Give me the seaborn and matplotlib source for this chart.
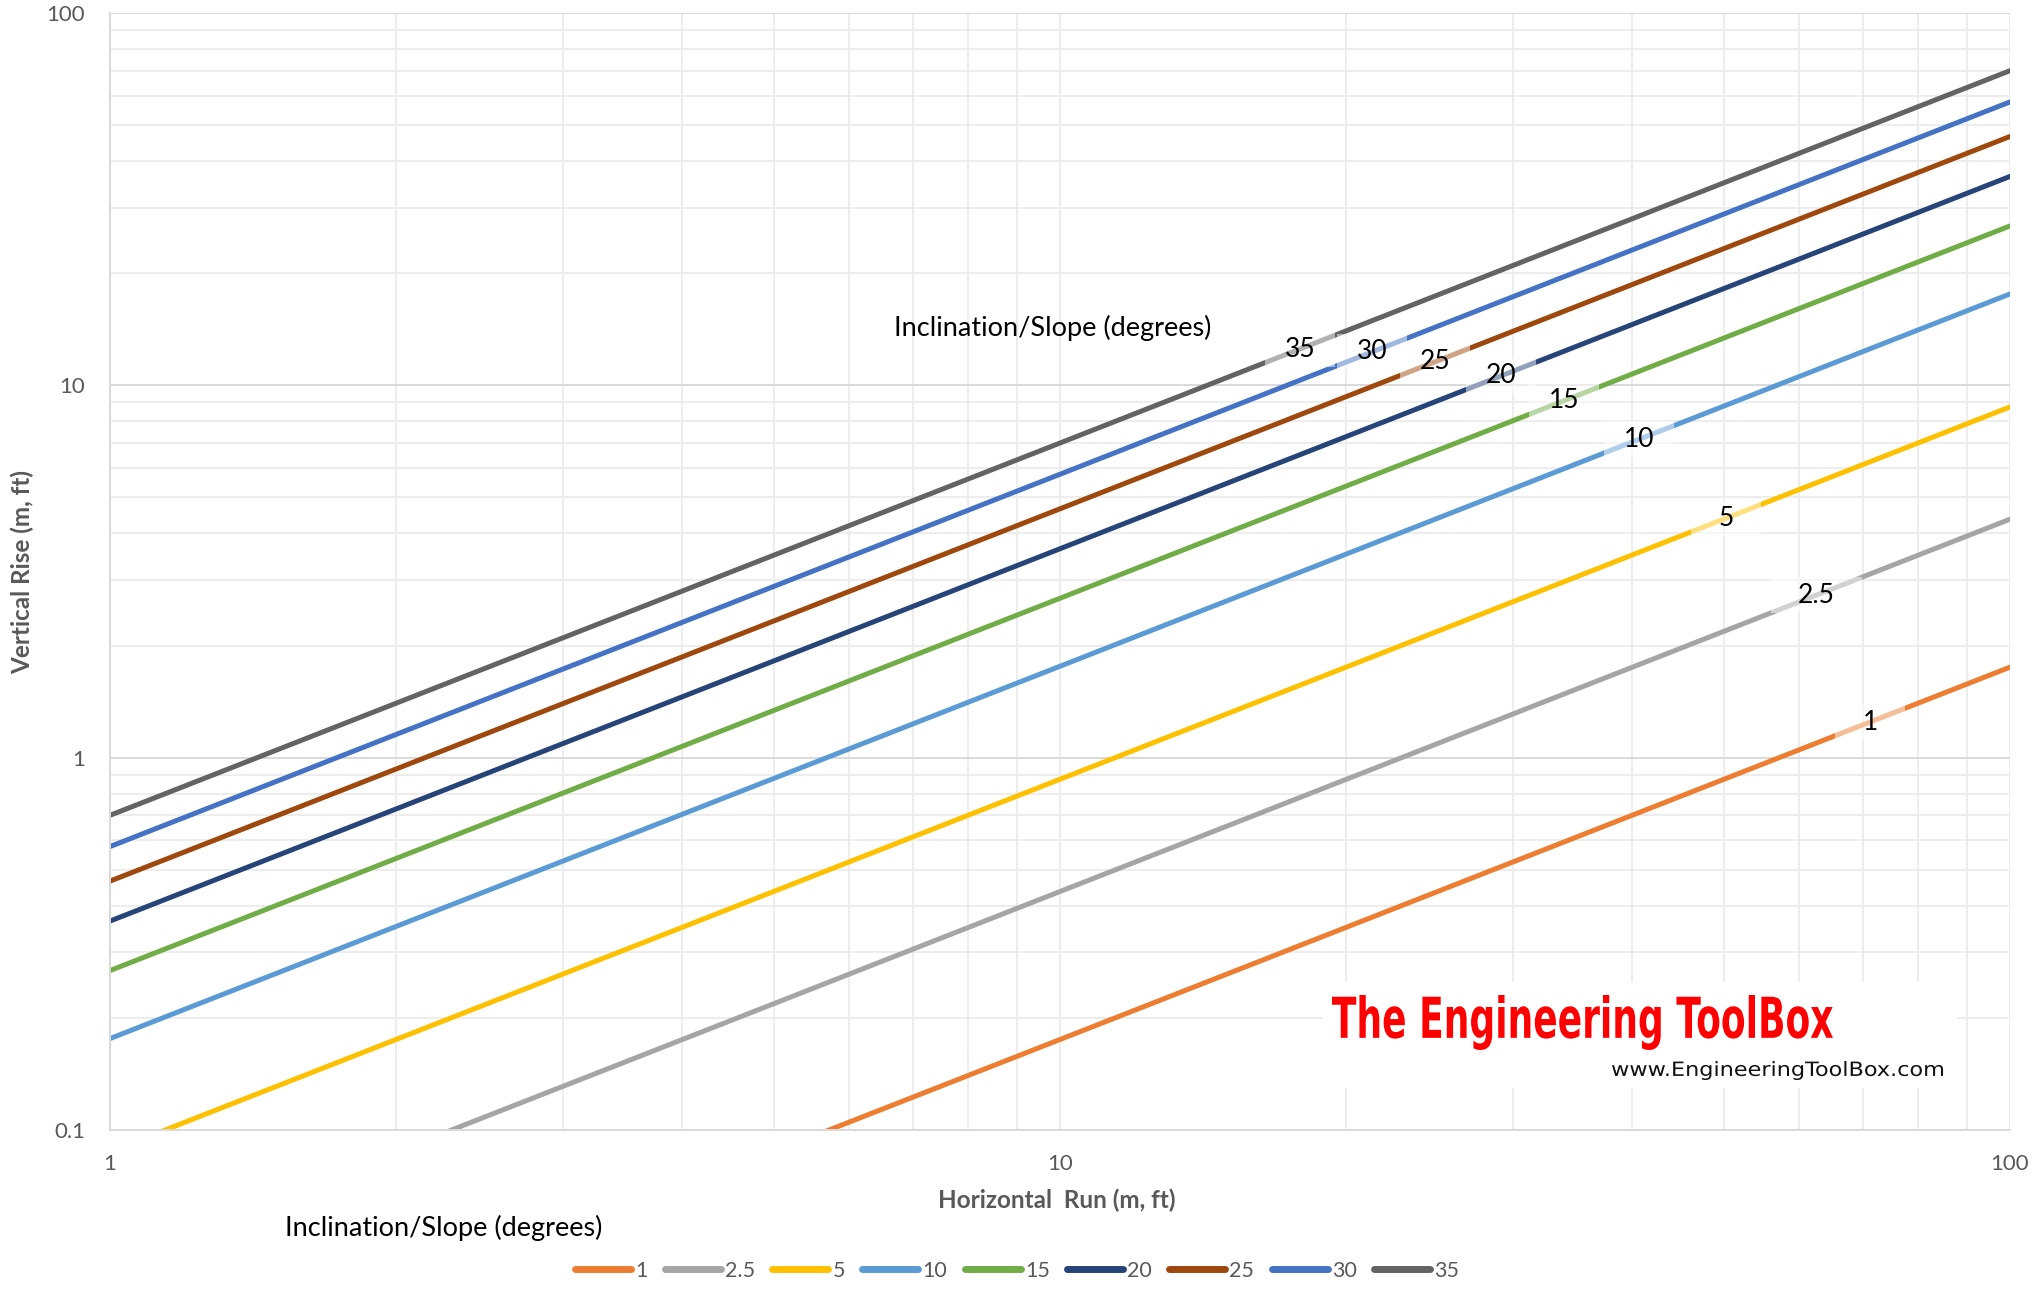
import numpy as np
import pandas as pd
import matplotlib
matplotlib.use('Agg')
import matplotlib.pyplot as plt
import seaborn as sns
from matplotlib.ticker import FixedLocator, FixedFormatter, NullFormatter
from matplotlib.textpath import TextPath
from matplotlib.patches import PathPatch, Rectangle
from matplotlib.font_manager import FontProperties
from matplotlib.transforms import Affine2D, IdentityTransform, ScaledTranslation

# --- data --------------------------------------------------------------
angles = ['1', '2.5', '5', '10', '15', '20', '25', '30', '35']
run = [1, 10, 100]
rise_1 = [0.0175, 0.175, 1.75]
rise_2_5 = [0.0437, 0.437, 4.37]
rise_5 = [0.0875, 0.875, 8.75]
rise_10 = [0.176, 1.76, 17.6]
rise_15 = [0.268, 2.68, 26.8]
rise_20 = [0.364, 3.64, 36.4]
rise_25 = [0.466, 4.66, 46.6]
rise_30 = [0.577, 5.77, 57.7]
rise_35 = [0.700, 7.00, 70.0]
rises = [rise_1, rise_2_5, rise_5, rise_10, rise_15, rise_20, rise_25, rise_30, rise_35]

# where the inline angle labels sit
label_x = [71.3, 62.5, 50.3, 40.7, 33.9, 29.1, 24.8, 21.3, 17.9]
label_y = [1.245, 2.73, 4.40, 7.16, 9.08, 10.6, 11.56, 12.3, 12.5]

x_ticks = [1, 10, 100]
x_tick_labels = ['1', '10', '100']
y_ticks = [0.1, 1, 10, 100]
y_tick_labels = ['0.1', '1', '10', '100']

colors = ['#ED7D31', '#A5A5A5', '#FFC000', '#5B9BD5', '#70AD47',
          '#264478', '#9E480E', '#4472C4', '#636363']

rows = []
for a, r in zip(angles, rises):
    for x, y in zip(run, r):
        rows.append({'run': x, 'rise': y, 'angle': a})
df = pd.DataFrame(rows)

# --- figure -------------------------------------------------------------
sns.set_theme(style='white')
plt.rcParams['font.family'] = ['Lato', 'DejaVu Sans']

W, H = 2033, 1289
fig = plt.figure(figsize=(W / 100, H / 100), dpi=100)
ax = fig.add_axes([110 / W, 1 - 1130 / H, 1900 / W, 1117 / H])

sns.lineplot(data=df, x='run', y='rise', hue='angle', hue_order=angles,
             palette=colors, linewidth=3.6, ax=ax, legend=True)

ax.set_xscale('log')
ax.set_yscale('log')
ax.set_xlim(1, 100)
ax.set_ylim(0.1, 100)

ax.xaxis.set_major_locator(FixedLocator(x_ticks))
ax.xaxis.set_major_formatter(FixedFormatter(x_tick_labels))
ax.yaxis.set_major_locator(FixedLocator(y_ticks))
ax.yaxis.set_major_formatter(FixedFormatter(y_tick_labels))
ax.xaxis.set_minor_formatter(NullFormatter())
ax.yaxis.set_minor_formatter(NullFormatter())
ax.tick_params(which='both', length=0)
ax.tick_params(axis='y', pad=18, labelsize=16, labelcolor='#595959')
ax.tick_params(axis='x', pad=17, labelsize=16, labelcolor='#595959')

ax.xaxis.grid(which='both', color='#ececec', linewidth=1.3)
ax.yaxis.grid(which='major', color='#d9d9d9', linewidth=1.4)
ax.yaxis.grid(which='minor', color='#ececec', linewidth=1.3)
ax.set_axisbelow(True)
for side in ['top', 'right']:
    ax.spines[side].set_visible(False)
for side in ['left', 'bottom']:
    ax.spines[side].set_color('#d9d9d9')
    ax.spines[side].set_linewidth(1.4)
ax.set_xlabel('')
ax.set_ylabel('')

# inline labels on translucent white boxes (box size in pixels)
for lab, lx, ly in zip(angles, label_x, label_y):
    bw = max(70, 22 * len(lab) + 25)
    bh = 36
    box_tr = Affine2D() + ScaledTranslation(lx, ly, ax.transData)
    ax.add_patch(Rectangle((-bw / 2, -bh / 2), bw, bh, transform=box_tr,
                           fc='white', ec='none', alpha=0.5, zorder=4))
    ax.text(lx, ly, lab, ha='center', va='center', fontsize=19,
            color='black', zorder=5)

ax.text(0.496, 0.718, 'Inclination/Slope (degrees)', transform=ax.transAxes,
        ha='center', va='center', fontsize=19.5, color='black')

# axis titles
fig.text(1057 / W, 1 - 1200 / H, 'Horizontal  Run (m, ft)', ha='center', va='center',
         fontsize=17.5, fontweight='bold', color='#595959')
fig.text(22 / W, 1 - 572 / H, 'Vertical Rise (m, ft)', ha='center', va='center',
         rotation=90, fontsize=17.5, fontweight='bold', color='#595959')
fig.text(285 / W, 1 - 1228 / H, 'Inclination/Slope (degrees)', ha='left', va='center',
         fontsize=19.5, color='black')

# legend along the bottom
handles, labels = ax.get_legend_handles_labels()
ax.get_legend().remove()
for h in handles:
    h.set_linewidth(5)
    h.set_solid_capstyle('round')
fig.legend(handles, labels, loc='center', bbox_to_anchor=(1017 / W, 1 - 1271 / H),
           ncol=9, frameon=False, fontsize=15.5, handlelength=2.6, handletextpad=0.2,
           columnspacing=0.8, labelcolor='#595959')

# watermark
ax.add_patch(Rectangle(((1323 - 110) / 1900, (1130 - 1088) / 1117),
                       (1957 - 1323) / 1900, (1088 - 982) / 1117,
                       transform=ax.transAxes, fc='white', ec='none', zorder=1.5))


def squeezed_text(s, x0, y0, x1, y1, color, weight, family):
    prop = FontProperties(family=family, weight=weight)
    tp = TextPath((0, 0), s, size=50, prop=prop)
    ext = tp.get_extents()
    tr = (Affine2D().translate(-ext.x0, -ext.y0)
          .scale((x1 - x0) / ext.width, (y1 - y0) / ext.height)
          .translate(x0, H - y1))
    fig.add_artist(PathPatch(tr.transform_path(tp), fc=color, ec='none',
                             transform=IdentityTransform(), zorder=6))


squeezed_text('The Engineering ToolBox', 1332, 995, 1833, 1050, '#ff0000', 'bold', 'DejaVu Sans')
squeezed_text('www.EngineeringToolBox.com', 1612, 1061, 1943, 1080, '#111111', 'normal', 'DejaVu Sans')

fig.savefig('out.png', dpi=100, facecolor='white')
